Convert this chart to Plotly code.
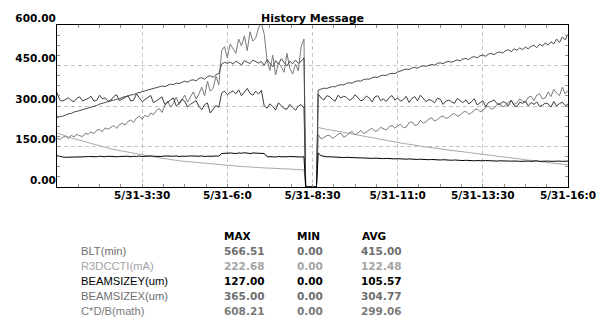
import pandas as pd
import plotly.graph_objects as go

DAY = "2024-05-31"
TIMES_A = [t.strftime("%Y-%m-%d %H:%M") for t in pd.date_range(f"{DAY} 01:00", f"{DAY} 08:15", freq="5min")]
TIMES_B = [t.strftime("%Y-%m-%d %H:%M") for t in pd.date_range(f"{DAY} 08:40", f"{DAY} 16:00", freq="5min")]
GAP_TIMES = [f"{DAY} 08:18", f"{DAY} 08:37"]
GAP_VALUES = [0, 0]

# BLT(min)
BLT_A = [256, 261, 262, 268, 271, 272, 278, 280, 283, 288, 289, 294,
         296, 300, 302, 307, 309, 313, 316, 318, 322, 325, 327, 332,
         334, 337, 341, 342, 347, 350, 352, 356, 358, 362, 364, 368,
         370, 374, 372, 378, 381, 379, 385, 383, 389, 392, 388, 395,
         397, 393, 402, 405, 399, 409, 412, 406, 416, 420, 455, 462,
         458, 463, 455, 466, 460, 452, 468, 461, 457, 470, 463, 459,
         465, 450, 472, 458, 445, 468, 455, 475, 460, 448, 466, 456,
         470, 458, 465, 478]
BLT_B = [359, 362, 366, 365,
         370, 372, 371, 377, 379, 378, 384, 386, 385, 391, 393, 392,
         398, 400, 399, 405, 407, 406, 412, 414, 413, 419, 421, 420,
         426, 430, 432, 437, 435, 441, 443, 440, 446, 449, 447, 452,
         454, 451, 458, 460, 457, 463, 465, 462, 468, 471, 467, 474,
         476, 472, 480, 483, 478, 486, 489, 484, 492, 495, 490, 498,
         500, 496, 505, 508, 501, 512, 506, 515, 509, 518, 512, 521,
         525, 516, 529, 522, 534, 526, 538, 530, 548, 535, 556, 545,
         566]

# R3DCCTI(mA)
R3D_A = [200, 196, 193, 189, 186, 182, 179, 176, 172, 169, 166, 163,
         160, 157, 154, 152, 149, 146, 144, 141, 139, 137, 135, 132,
         130, 128, 126, 124, 122, 120, 118, 116, 114, 113, 111, 109,
         108, 106, 105, 103, 102, 100, 99, 97, 96, 95, 93, 92,
         91, 90, 89, 88, 87, 86, 85, 84, 83, 82, 81, 81,
         80, 79, 78, 78, 77, 76, 75, 75, 74, 73, 73, 72,
         71, 71, 70, 70, 69, 69, 68, 68, 67, 67, 66, 66,
         65, 65, 64, 64]
R3D_B = [221, 218, 215, 213,
         212, 210, 207, 205, 203, 201, 199, 197, 195, 193, 191, 189,
         187, 185, 183, 181, 179, 178, 176, 174, 172, 170, 168, 167,
         165, 163, 161, 160, 158, 156, 155, 153, 151, 150, 148, 147,
         146, 144, 143, 141, 140, 138, 137, 136, 134, 133, 132, 130,
         129, 128, 126, 125, 124, 122, 121, 120, 118, 117, 116, 114,
         113, 112, 110, 109, 108, 106, 105, 104, 102, 101, 100, 98,
         97, 96, 94, 93, 92, 90, 89, 88, 86, 85, 84, 83,
         82]

# BEAMSIZEY(um)
BSY_A = [116, 113, 111, 110, 110, 111, 110, 111, 112, 111, 112, 113,
         112, 113, 112, 114, 113, 112, 114, 113, 114, 112, 113, 114,
         113, 114, 112, 114, 113, 115, 113, 114, 113, 115, 114, 113,
         114, 113, 115, 114, 113, 114, 115, 113, 114, 113, 114, 115,
         114, 113, 114, 115, 113, 114, 113, 114, 115, 114, 124, 125,
         124, 126, 125, 124, 126, 125, 127, 125, 124, 126, 125, 124,
         125, 124, 112, 113, 112, 111, 113, 112, 111, 112, 113, 112,
         111, 112, 111, 112]
BSY_B = [126, 116, 113, 112,
         112, 111, 111, 110, 110, 109, 110, 109, 108, 109, 108, 108,
         107, 108, 107, 106, 107, 106, 106, 105, 106, 105, 105, 104,
         105, 104, 104, 103, 104, 103, 103, 102, 103, 102, 102, 101,
         102, 101, 101, 100, 101, 100, 100, 99, 100, 99, 99, 98,
         99, 98, 98, 97, 98, 97, 97, 98, 97, 96, 97, 96,
         97, 96, 97, 96, 96, 97, 96, 95, 96, 97, 96, 95,
         96, 97, 95, 96, 97, 96, 95, 96, 97, 96, 95, 96,
         96]

# BEAMSIZEX(um)
BSX_A = [350, 322, 318, 326, 331, 320, 316, 329, 334, 319, 323, 328,
         336, 318, 321, 340, 327, 330, 317, 322, 335, 342, 320, 326,
         331, 338, 318, 322, 345, 330, 316, 324, 333, 339, 312, 320,
         326, 334, 305, 312, 322, 330, 300, 310, 325, 318, 296, 306,
         314, 320, 298, 286, 305, 311, 274, 290, 302, 295, 348, 355,
         342, 350, 356, 345, 360, 338, 352, 365, 347, 340, 355, 344,
         358, 300, 292, 308, 298, 285, 312, 302, 290, 288, 306, 295,
         284, 300, 305, 292]
BSX_B = [345, 330, 322, 338,
         335, 325, 318, 340, 330, 336, 332, 321, 327, 342, 331, 319,
         324, 337, 329, 315, 334, 338, 320, 326, 317, 331, 339, 322,
         330, 318, 324, 336, 313, 328, 335, 319, 340, 326, 316, 324,
         320, 312, 329, 325, 306, 318, 322, 315, 310, 328, 319, 312,
         323, 308, 316, 327, 304, 311, 320, 298, 313, 317, 322, 309,
         305, 316, 312, 300, 321, 303, 297, 314, 310, 318, 301, 313,
         306, 315, 298, 303, 311, 308, 296, 317, 300, 309, 314, 302,
         305]

# C*D/B(math)
CDB_A = [181, 176, 184, 188, 179, 191, 186, 195, 190, 187, 199, 196,
         204, 198, 210, 213, 205, 219, 214, 222, 228, 217, 231, 236,
         229, 243, 248, 239, 255, 262, 251, 266, 259, 274, 268, 283,
         291, 276, 302, 318, 296, 310, 333, 305, 322, 340, 314, 331,
         352, 326, 345, 370, 338, 392, 355, 366, 410, 378, 505, 520,
         478, 530, 512, 495, 548, 522, 560, 505, 575, 540, 552, 590,
         608, 565, 470, 432, 488, 415, 460, 445, 425, 495, 440, 418,
         455, 430, 520, 548]
CDB_B = [195, 178, 183, 190,
         192, 180, 186, 196, 199, 184, 190, 201, 205, 193, 200, 210,
         198, 203, 212, 217, 206, 209, 221, 215, 211, 224, 228, 218,
         226, 233, 219, 222, 238, 242, 228, 230, 247, 236, 241, 252,
         256, 244, 250, 259, 263, 254, 258, 268, 272, 262, 266, 277,
         280, 270, 274, 285, 290, 279, 283, 296, 300, 288, 293, 305,
         310, 297, 302, 315, 320, 306, 311, 326, 318, 314, 332, 336,
         320, 340, 345, 326, 330, 352, 335, 362, 348, 338, 370, 345,
         358]

NAMES = ["BLT(min)", "R3DCCTI(mA)", "BEAMSIZEY(um)", "BEAMSIZEX(um)", "C*D/B(math)"]
MAXS = ["566.51", "222.68", "127.00", "365.00", "608.21"]
MINS = ["0.00", "0.00", "0.00", "0.00", "0.00"]
AVGS = ["415.00", "122.48", "105.57", "304.77", "299.06"]

Y_TICKS = [0, 150, 300, 450, 600]
Y_TICK_TEXT = ["0.00", "150.00", "300.00", "450.00", "600.00"]
X_TICKS = [f"{DAY} 03:30", f"{DAY} 06:00", f"{DAY} 08:30", f"{DAY} 11:00", f"{DAY} 13:30", f"{DAY} 16:00"]
X_TICK_TEXT = ["5/31-3:30", "5/31-6:0", "5/31-8:30", "5/31-11:0", "5/31-13:30", "5/31-16:0"]

LINE_COLORS = ["#4a4a4a", "#a8a8a8", "#000000", "#3c3c3c", "#7a7a7a"]
TEXT_COLORS = ["#6e6e6e", "#a4a4a4", "#000000", "#6e6e6e", "#7a7a7a"]

series_a = [BLT_A, R3D_A, BSY_A, BSX_A, CDB_A]
series_b = [BLT_B, R3D_B, BSY_B, BSX_B, CDB_B]
for a, b in zip(series_a, series_b):
    assert len(a) == len(TIMES_A), len(a)
    assert len(b) == len(TIMES_B), len(b)

x_all = TIMES_A + GAP_TIMES + TIMES_B

fig = go.Figure()
draw_order = [1, 4, 3, 0, 2]
for i in draw_order:
    fig.add_trace(go.Scatter(
        x=x_all, y=series_a[i] + GAP_VALUES + series_b[i],
        mode="lines", name=NAMES[i],
        line=dict(color=LINE_COLORS[i], width=1),
        showlegend=False, hoverinfo="skip",
    ))

W, H = 603, 323
ML, MR, MT, MB = 57, 35, 25, 136
PW, PH = W - ML - MR, H - MT - MB

TICK_FONT = dict(family="DejaVu Sans", size=10.5, color="black", weight="bold")

fig.update_layout(
    width=W, height=H,
    margin=dict(l=ML, r=MR, t=MT, b=MB, pad=0, autoexpand=False),
    paper_bgcolor="white", plot_bgcolor="white",
    xaxis=dict(
        type="date", range=[f"{DAY} 01:00", f"{DAY} 16:00"], automargin=False,
        tickmode="array", tickvals=X_TICKS, ticktext=X_TICK_TEXT,
        tickfont=TICK_FONT, ticklabelstandoff=-2,
        showgrid=True, gridcolor="#c4c4c4", griddash="4px,3px", gridwidth=1,
        ticks="inside", ticklen=3, tickcolor="#909090",
        showline=True, linecolor="black", linewidth=1, mirror="ticks",
        zeroline=False,
        minor=dict(ticks="inside", ticklen=3, tickcolor="#909090",
                   tick0=f"{DAY} 01:00", dtick=37.5 * 60 * 1000, showgrid=False),
    ),
    yaxis=dict(
        range=[0, 600], automargin=False,
        tickmode="array", tickvals=Y_TICKS, ticktext=Y_TICK_TEXT,
        tickfont=TICK_FONT, ticklabelshift=-7, ticklabelstandoff=-2,
        showgrid=True, gridcolor="#c4c4c4", griddash="4px,3px", gridwidth=1,
        ticks="inside", ticklen=3, tickcolor="#909090",
        showline=True, linecolor="black", linewidth=1, mirror="ticks",
        zeroline=False,
        minor=dict(ticks="inside", ticklen=3, tickcolor="#909090",
                   tick0=0, dtick=37.5, showgrid=False),
    ),
)

fig.add_annotation(text="History Message", xref="paper", yref="paper", x=0.5, y=1,
                   xanchor="center", yanchor="bottom", yshift=-2, showarrow=False,
                   font=dict(family="DejaVu Sans", size=11, color="black", weight="bold"))


def px_x(px):
    return (px - ML) / PW


def px_y(py):
    return (H - MB - py) / PH


HEAD_FONT = dict(family="DejaVu Sans", size=10.5, color="black", weight="bold")
COL_X = [224, 297, 362]
for cx, txt in zip(COL_X, ["MAX", "MIN", "AVG"]):
    fig.add_annotation(text=txt, xref="paper", yref="paper", x=px_x(cx), y=px_y(236),
                       xanchor="left", yanchor="middle", xshift=-2, showarrow=False, font=HEAD_FONT)

ROW_Y = [251, 266, 281, 296, 311]
for i in range(len(NAMES)):
    fig.add_annotation(text=NAMES[i], xref="paper", yref="paper", x=px_x(81), y=px_y(ROW_Y[i]),
                       xanchor="left", yanchor="middle", xshift=-2, showarrow=False,
                       font=dict(family="Liberation Sans", size=11.2, color=TEXT_COLORS[i]))
    for cx, val in zip([224, 297, 361], [MAXS[i], MINS[i], AVGS[i]]):
        fig.add_annotation(text=val, xref="paper", yref="paper", x=px_x(cx), y=px_y(ROW_Y[i]),
                           xanchor="left", yanchor="middle", xshift=-2, showarrow=False,
                           font=dict(family="DejaVu Sans", size=10.5, color=TEXT_COLORS[i], weight="bold"))

fig.write_html("out.html", config={"displayModeBar": False},
               post_script="document.body.style.margin='0';")
